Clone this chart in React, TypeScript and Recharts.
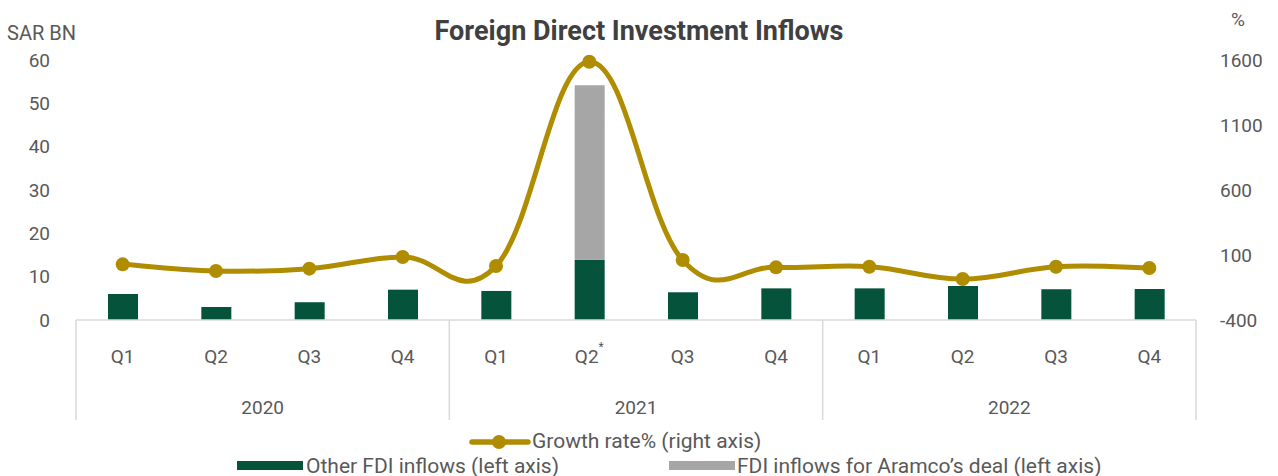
import React from 'react';
import { ComposedChart, Bar, Line, XAxis, YAxis } from 'recharts';

const quarters = ['Q1', 'Q2', 'Q3', 'Q4', 'Q1', 'Q2', 'Q3', 'Q4', 'Q1', 'Q2', 'Q3', 'Q4'];
const quarterMarks = ['', '', '', '', '', '*', '', '', '', '', '', ''];
const years = ['2020', '2021', '2022'];
const otherFdi = [6.0, 3.0, 4.1, 7.0, 6.7, 13.9, 6.4, 7.3, 7.3, 7.85, 7.1, 7.15];
const aramcoFdi = [null, null, null, null, null, 40.3, null, null, null, null, null, null];
const growthRate = [28, -23, -5, 85, 15, 1587, 61, 5, 10, -85, 10, 0];
const leftTicks = [0, 10, 20, 30, 40, 50, 60];
const rightTicks = [-400, 100, 600, 1100, 1600];

const data = quarters.map((q, i) => ({
  key: `${years[Math.floor(i / 4)]}-${q}`,
  other: otherFdi[i],
  aramco: aramcoFdi[i],
  growth: growthRate[i],
}));

const W = 1278;
const H = 476;
const MARGIN = { top: 60, right: 22, bottom: 46, left: 16 };
const YW = 60;
const PLOT_W = W - MARGIN.left - MARGIN.right - 2 * YW;
const BAND = PLOT_W / quarters.length;

const GREEN = '#04533a';
const GRAY = '#a6a6a6';
const GOLD = '#b08d00';
const TICK = '#595959';
const LINE = '#d9d9d9';
const FONT = 'Roboto, "DejaVu Sans", sans-serif';

// Excel-like smoothed line (cardinal spline)
const smoothCurve = (k: number) => (context: any) => {
  let pts: number[][] = [];
  return {
    areaStart() {},
    areaEnd() {},
    lineStart() {
      pts = [];
    },
    lineEnd() {
      const n = pts.length;
      if (!n) return;
      context.moveTo(pts[0][0], pts[0][1]);
      for (let i = 0; i < n - 1; i++) {
        const p0 = pts[Math.max(0, i - 1)];
        const p1 = pts[i];
        const p2 = pts[i + 1];
        const p3 = pts[Math.min(n - 1, i + 2)];
        context.bezierCurveTo(
          p1[0] + (p2[0] - p0[0]) * k,
          p1[1] + (p2[1] - p0[1]) * k,
          p2[0] - (p3[0] - p1[0]) * k,
          p2[1] - (p3[1] - p1[1]) * k,
          p2[0],
          p2[1]
        );
      }
    },
    point(x: number, y: number) {
      pts.push([+x, +y]);
    },
  };
};

const CategoryTick = (props: any) => {
  const { x, y, index } = props;
  const i = index as number;
  const els: any[] = [];
  els.push(
    <text key="q" x={x} y={y + 36} textAnchor="middle" dominantBaseline="central" fill={TICK} fontSize={19} fontFamily={FONT}>
      {quarters[i]}
      {quarterMarks[i] ? (
        <tspan dy={-9} fontSize={12}>
          {quarterMarks[i]}
        </tspan>
      ) : null}
    </text>
  );
  if (i % 4 === 0) {
    els.push(<line key="sl" x1={x - BAND / 2} x2={x - BAND / 2} y1={y} y2={y + 100} stroke={LINE} strokeWidth={1.5} />);
  }
  if (i === quarters.length - 1) {
    els.push(<line key="sr" x1={x + BAND / 2} x2={x + BAND / 2} y1={y} y2={y + 100} stroke={LINE} strokeWidth={1.5} />);
  }
  if (i % 4 === 1) {
    els.push(
      <text key="y" x={x + BAND / 2} y={y + 87} textAnchor="middle" dominantBaseline="central" fill={TICK} fontSize={19} fontFamily={FONT}>
        {years[Math.floor(i / 4)]}
      </text>
    );
  }
  return <g>{els}</g>;
};

const legendText: React.CSSProperties = {
  position: 'absolute',
  fontSize: 21,
  color: TICK,
  fontFamily: FONT,
  lineHeight: '24px',
  whiteSpace: 'nowrap',
};

export default function App() {
  return (
    <div style={{ position: 'absolute', left: 0, top: 0, width: W, height: H, background: '#fff', fontFamily: FONT }}>
      <div style={{ position: 'absolute', left: 0, width: W, top: 16, textAlign: 'center', fontSize: 27, fontWeight: 700, color: '#404040', lineHeight: '30px' }}>
        Foreign Direct Investment Inflows
      </div>
      <div style={{ position: 'absolute', left: 7, top: 21, fontSize: 20, color: TICK, lineHeight: '24px' }}>SAR BN</div>
      <div style={{ position: 'absolute', left: 1231, top: 8, fontSize: 19, color: TICK, lineHeight: '24px' }}>%</div>
      <ComposedChart width={W} height={H} data={data} margin={MARGIN}>
        <XAxis
          dataKey="key"
          xAxisId="x"
          height={110}
          tickLine={false}
          tickSize={0}
          tickMargin={0}
          axisLine={{ stroke: LINE, strokeWidth: 1.5 }}
          interval={0}
          tick={(p: any) => <CategoryTick {...p} />}
        />
        <YAxis
          yAxisId="left"
          orientation="left"
          width={YW}
          domain={[0, 60]}
          ticks={leftTicks}
          tickLine={false}
          axisLine={false}
          tickSize={0}
          tickMargin={26}
          tick={{ fill: TICK, fontSize: 19, fontFamily: FONT }}
        />
        <YAxis
          yAxisId="right"
          orientation="right"
          width={YW}
          domain={[-400, 1600]}
          ticks={rightTicks}
          tickLine={false}
          axisLine={false}
          tickSize={0}
          tickMargin={24}
          tick={{ fill: TICK, fontSize: 19, fontFamily: FONT, textAnchor: 'start' }}
        />
        <Bar dataKey="other" xAxisId="x" yAxisId="left" stackId="fdi" fill={GREEN} barSize={30} isAnimationActive={false} />
        <Bar dataKey="aramco" xAxisId="x" yAxisId="left" stackId="fdi" fill={GRAY} barSize={30} isAnimationActive={false} />
        <Line
          dataKey="growth"
          xAxisId="x"
          yAxisId="right"
          type={smoothCurve(0.2) as any}
          stroke={GOLD}
          strokeWidth={5}
          dot={{ r: 7, fill: GOLD, stroke: GOLD, strokeWidth: 0 }}
          activeDot={false}
          isAnimationActive={false}
        />
      </ComposedChart>
      {/* Legend */}
      <svg style={{ position: 'absolute', left: 469, top: 434 }} width={62} height={16}>
        <line x1={3} x2={59} y1={8} y2={8} stroke={GOLD} strokeWidth={5.5} strokeLinecap="round" />
        <circle cx={30} cy={8} r={7} fill={GOLD} />
      </svg>
      <div style={{ ...legendText, left: 532, top: 429 }}>Growth rate% (right axis)</div>
      <div style={{ position: 'absolute', left: 237, top: 461, width: 66, height: 9, background: GREEN }} />
      <div style={{ ...legendText, left: 306, top: 454 }}>Other FDI inflows (left axis)</div>
      <div style={{ position: 'absolute', left: 669, top: 461, width: 66, height: 9, background: GRAY }} />
      <div style={{ ...legendText, left: 737, top: 454 }}>FDI inflows for Aramco’s deal (left axis)</div>
    </div>
  );
}
